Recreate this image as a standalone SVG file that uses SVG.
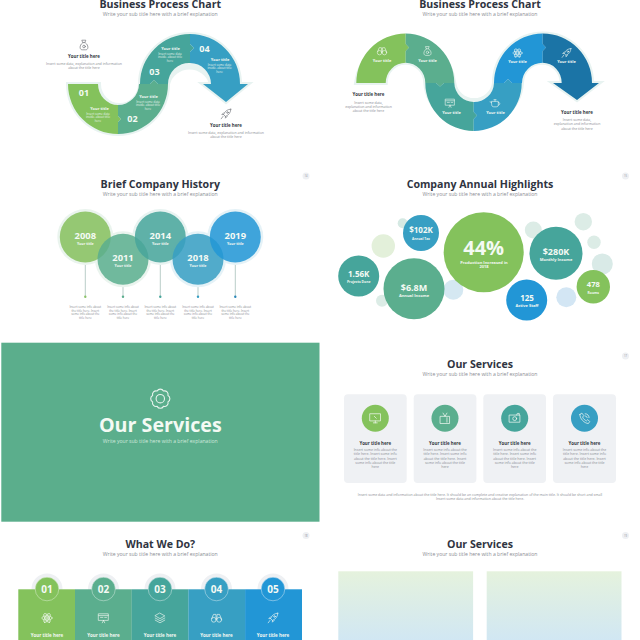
<svg xmlns="http://www.w3.org/2000/svg" width="640" height="640" viewBox="0 0 640 640">
<style>
text{font-family:"Open Sans","Liberation Sans",sans-serif;text-anchor:middle}
.h{font-size:10.600px;font-weight:700;fill:#2f3441}
.s{font-size:5.100px;fill:#8a8d94}
.t{font-size:4.400px;font-weight:700;fill:#34383f}
.b{font-size:3.500px;fill:#8a8d94}
.wt{font-size:4px;font-weight:700;fill:#f2f8f2}
.wy{font-size:3.600px;font-weight:700;fill:#f2f8f2}
.wl{font-size:4.500px;font-weight:700;fill:#f2f8f2}
.wb{font-size:3px;fill:#e4f2ea}
.n{font-size:9px;font-weight:700;fill:#f4faf4}
.nl{font-size:10px;font-weight:700;fill:#f4faf4}
.halo{fill:#e8f3f1;stroke:#e8f3f1;stroke-width:4;stroke-linejoin:miter;stroke-miterlimit:8}
.ic{fill:none;stroke-width:1.1;stroke-linejoin:round;stroke-linecap:round}
.badge{fill:#eef0f3}
.bt{font-size:2.600px;fill:#8a8d94}
.tb{font-size:3px;fill:#8a8d94}
.y{font-size:9.400px;font-weight:700;fill:#f4faf4}
.big{font-weight:700;fill:#f4faf4}
.card{fill:#eff1f4}
.stem{stroke-width:1;stroke:#b9cdc9}
</style>
<defs>
<linearGradient id="pale" x1="0" y1="0" x2="0" y2="1"><stop offset="0" stop-color="#e5f2dd"/><stop offset="1" stop-color="#d1e7f3"/></linearGradient>
<g id="i-rocket"><path d="M8 -8C3 -8 -2 -5 -4 1L-1 4C5 2 8 -3 8 -8ZM-4 1L-7 1L-4 -2M-1 4L-1 7L2 4M-5 4L-8 8"/><circle cx="2.500" cy="-2.500" r="1.400"/></g>
<g id="i-bag"><path d="M-3 -8L3 -8L1.500 -4L-1.500 -4ZM-1.500 -4C-8 -1 -8 8 -3 8L3 8C8 8 8 -1 1.500 -4"/><circle cx="0" cy="2.500" r="2.200"/></g>
<g id="i-bino"><circle cx="-4.500" cy="3" r="4"/><circle cx="4.500" cy="3" r="4"/><path d="M-8 1L-5 -6L-1 -6L-.5 2M8 1L5 -6L1 -6L.5 2"/></g>
<g id="i-atom"><circle r="2"/><ellipse rx="8.500" ry="3.500"/><ellipse rx="8.500" ry="3.500" transform="rotate(60)"/><ellipse rx="8.500" ry="3.500" transform="rotate(120)"/></g>
<g id="i-board"><rect x="-8" y="-7" width="16" height="11"/><path d="M-8 -4L8 -4M-5 -1L-1 -1M2 -1L5 -1M0 4L-2 8M0 4L2 8"/></g>
<g id="i-pot"><path d="M-6 -3L6 -3L6 4C6 7 3 7 0 7C-3 7 -6 7 -6 4ZM6 -1C10 -2 10 4 6 4M-6 -1L-9 -2M-2 -6L2 -6M0 -6L0 -3"/></g>
<g id="i-layers"><path d="M0 -8L8 -3.500L0 1L-8 -3.500ZM-8 0L0 4.500L8 0M-8 3.500L0 8L8 3.500"/></g>
<g id="i-gear"><path d="M7.670 3.180A3.600 3.600 0 0 1 3.180 7.670A3.600 3.600 0 0 1 -3.180 7.670A3.600 3.600 0 0 1 -7.670 3.180A3.600 3.600 0 0 1 -7.670 -3.180A3.600 3.600 0 0 1 -3.180 -7.670A3.600 3.600 0 0 1 3.180 -7.670A3.600 3.600 0 0 1 7.670 -3.180A3.600 3.600 0 0 1 7.670 3.180Z"/><circle r="4.200"/></g>
<g id="i-mon"><rect x="-8" y="-7" width="16" height="11"/><path d="M-3 7L3 7M0 4L0 7M-1.500 -3L1.500 0"/></g>
<g id="i-tv"><rect x="-7" y="-3" width="14" height="11"/><path d="M-3 -8L0 -3L3 -8M3 -1L3 6"/></g>
<g id="i-cam"><rect x="-8" y="-5" width="16" height="11"/><circle cy=".5" r="3"/><path d="M3 -5L4 -7.500L7 -7.500L7 -5"/></g>
<g id="i-phone"><path d="M-7 -6L-4 -8L-1 -4L-3 -2C-2 1 1 3 3 4L5 2L8 5L6 8C0 8 -8 0 -7 -6ZM1 -7C5 -7 7 -4 7 -1M1 -3.500C3 -3.500 4 -2.500 4 -1"/></g>
</defs>

<g id="slide-process-1">
<text class="h" x="160.300" y="7.500">Business Process Chart</text>
<text class="s" x="160.300" y="15.800">Write your sub title here with a brief explanation</text>
<path class="halo" d="M68 84A50 50 0 0 0 168 84A22 21 0 0 1 211 84L203 84L226 102L248 84L240 84A50 50 0 0 0 140 84A20.500 21 0 0 1 99 84Z"/>
<g id="p1-01"><path fill="#84c25c" d="M68 84A50 50 0 0 0 118 134L118 122L121 119L118 116L118 105A20 21 0 0 1 98 84Z"/><text class="n" x="84" y="96">01</text><text class="wt" x="99.500" y="109.500">Your title</text><text class="wb" x="98" y="114.500">Insert some data</text><text class="wb" x="98" y="118.300">inside. about title</text><text class="wb" x="98" y="122">here</text></g>
<g id="p1-02"><path fill="#5bae8e" d="M118 105A21 21 0 0 0 139 84L150 84L154 80L158 84L168 84A50 50 0 0 1 118 134L118 122L121 119L118 116Z"/><text class="n" x="132.500" y="122">02</text><text class="wt" x="148.500" y="97.500">Your title</text><text class="wb" x="148" y="102.500">Insert some data</text><text class="wb" x="148" y="106.300">inside. about title</text><text class="wb" x="148" y="110">here</text></g>
<g id="p1-03"><path fill="#46a59b" d="M140 84A50 50 0 0 1 190 34L190 44L194 48L190 52L190 63A21 21 0 0 0 168 84L158 84L154 80L150 84Z"/><text class="n" x="154.500" y="75">03</text><text class="wt" x="170.500" y="49.500">Your title</text><text class="wb" x="170" y="54.500">Insert some data</text><text class="wb" x="170" y="58.300">inside. about title</text><text class="wb" x="170" y="62">here</text></g>
<g id="p1-04"><path fill="#379fc3" d="M190 34A50 50 0 0 1 240 84L248 84L226 102L203 84L211 84A21 21 0 0 0 190 63L190 52L194 48L190 44Z"/><text class="n" x="204.500" y="51.500">04</text><text class="wt" x="220" y="60.500">Your title</text><text class="wb" x="219.500" y="65.500">Insert some data</text><text class="wb" x="219.500" y="69.300">inside. about title</text><text class="wb" x="219.500" y="73">here</text></g>
<g id="p1-note-a"><use href="#i-bag" class="ic" stroke="#6f7278" transform="translate(84 45) scale(.6)"/><text class="t" x="84" y="58">Your title here</text><text class="b" x="84" y="64.500">Insert some data, explanation and information</text><text class="b" x="84" y="69">about the title here</text></g>
<g id="p1-note-b"><use href="#i-rocket" class="ic" stroke="#6f7278" transform="translate(226 114) scale(.6)"/><text class="t" x="226" y="127">Your title here</text><text class="b" x="226" y="133.500">Insert some data, explanation and information</text><text class="b" x="226" y="138">about the title here</text></g>
</g>

<g id="slide-process-2">
<text class="h" x="480" y="7.500">Business Process Chart</text>
<text class="s" x="480" y="15.800">Write your sub title here with a brief explanation</text>
<path class="halo" d="M356 83A49.500 49.500 0 0 1 454.300 83A20 19.500 0 0 0 494 83A49 49.500 0 0 1 592 83L599 83L577 100L553 83L561.700 83A19.800 20.300 0 0 0 522 83A48.500 47.800 0 0 1 425.300 83A19.800 20.300 0 0 0 385.700 83Z"/>
<g id="p2-1"><path fill="#84c25c" d="M356.300 83A49.500 49.500 0 0 1 405.700 33.500L405.700 44L409 47.500L405.700 51L405.700 62.700A20 20.300 0 0 0 385.700 83Z"/><use href="#i-bino" class="ic" stroke="#f2f8f2" transform="translate(382 51) scale(.55)"/><text class="wt" x="382" y="61.500">Your title</text></g>
<g id="p2-2"><path fill="#5bae8e" d="M405.700 33.500A49 49.500 0 0 1 454.300 83L444 83L440 86.500L436 83L425.300 83A19.800 20.300 0 0 0 405.700 62.700L405.700 51L409 47.500L405.700 44Z"/><use href="#i-bag" class="ic" stroke="#f2f8f2" transform="translate(427.500 51) scale(.55)"/><text class="wt" x="427.500" y="61.500">Your title</text></g>
<g id="p2-3"><path fill="#46a59b" d="M425.300 83L436 83L440 86.500L444 83L454.300 83A19.500 19.500 0 0 0 473.700 102L473.700 112L477 115.500L473.700 119L473.700 131A48.500 48 0 0 1 425.300 83Z"/><use href="#i-board" class="ic" stroke="#f2f8f2" transform="translate(450 103) scale(.55)"/><text class="wt" x="451.500" y="113.500">Your title</text></g>
<g id="p2-4"><path fill="#379fc3" d="M473.700 102A20 19.500 0 0 0 494 83L504 83L508 79L512 83L521.700 83A48 48 0 0 1 473.700 131L473.700 119L477 115.500L473.700 112Z"/><use href="#i-pot" class="ic" stroke="#f2f8f2" transform="translate(495 103) scale(.55)"/><text class="wt" x="495.500" y="113.500">Your title</text></g>
<g id="p2-5"><path fill="#2296d6" d="M494 83A49 49.500 0 0 1 542.700 33.500L542.700 44L546 47.500L542.700 51L542.700 62.700A20.700 20.300 0 0 0 522 83L512 83L508 79L504 83Z"/><use href="#i-atom" class="ic" stroke="#f2f8f2" transform="translate(517.500 53) scale(.55)"/><text class="wt" x="517.500" y="62.800">Your title</text></g>
<g id="p2-6"><path fill="#1b74a6" d="M542.700 33.500A49.300 49.500 0 0 1 592 83L599 83L577 100L553 83L561.700 83A19 20.300 0 0 0 542.700 62.700L542.700 51L546 47.500L542.700 44Z"/><use href="#i-rocket" class="ic" stroke="#f2f8f2" transform="translate(566.500 53) scale(.55)"/><text class="wt" x="566.500" y="62.800">Your title</text></g>
<g id="p2-note-a"><text class="t" x="368.500" y="96">Your title here</text><text class="b" x="368.500" y="103.500">Insert some data,</text><text class="b" x="368.500" y="107.700">explanation and information</text><text class="b" x="368.500" y="112">about the title here</text></g>
<g id="p2-note-b"><text class="t" x="577" y="114">Your title here</text><text class="b" x="577" y="121">Insert some data,</text><text class="b" x="577" y="125.200">explanation and information</text><text class="b" x="577" y="129.500">about the title here</text></g>
</g>

<g id="slide-history">
<text class="h" x="160.300" y="187.500">Brief Company History</text>
<text class="s" x="160.300" y="195.800">Write your sub title here with a brief explanation</text>
<circle class="badge" cx="306" cy="176" r="3.500"/><text class="bt" x="306" y="177">14</text>
<g id="connectors">
<path class="stem" d="M85.300 255V296.500"/><path class="stem" d="M123 280V296.500"/><path class="stem" d="M160.300 255V296.500"/><path class="stem" d="M198 280V296.500"/><path class="stem" d="M235.300 255V296.500"/>
<circle cx="85.300" cy="296.700" r="1.200" fill="#8cc46b"/><circle cx="123" cy="296.700" r="1.200" fill="#5bae8e"/><circle cx="160.300" cy="296.700" r="1.200" fill="#46a59b"/><circle cx="198" cy="296.700" r="1.200" fill="#379fc3"/><circle cx="235.300" cy="296.700" r="1.200" fill="#2b88b8"/>
</g>
<circle cx="85.300" cy="237" r="28" fill="#eaf4ee"/><circle cx="160.300" cy="237" r="28" fill="#e8f3f1"/><circle cx="235.300" cy="237" r="28" fill="#e5f2f7"/><circle cx="123" cy="259.300" r="28" fill="#eaf4ee"/><circle cx="198" cy="259.300" r="28" fill="#e5f2f7"/>
<g id="y2008"><circle cx="85.300" cy="237" r="25.500" fill="#95c873"/><text class="y" x="85.300" y="239">2008</text><text class="wy" x="85.300" y="245">Your title</text></g>
<g id="y2011"><circle cx="123" cy="259.300" r="25.500" fill="#5bae8e" fill-opacity=".85"/><text class="y" x="123" y="261.300">2011</text><text class="wy" x="123" y="267.300">Your title</text></g>
<g id="y2014"><circle cx="160.300" cy="237" r="25.500" fill="#46a59b" fill-opacity=".85"/><text class="y" x="160.300" y="239">2014</text><text class="wy" x="160.300" y="245">Your title</text></g>
<g id="y2018"><circle cx="198" cy="259.300" r="25.500" fill="#379fc3" fill-opacity=".85"/><text class="y" x="198" y="261.300">2018</text><text class="wy" x="198" y="267.300">Your title</text></g>
<g id="y2019"><circle cx="235.300" cy="237" r="25.500" fill="#2296d6" fill-opacity=".85"/><text class="y" x="235.300" y="239">2019</text><text class="wy" x="235.300" y="245">Your title</text></g>
<g id="history-notes">
<text class="tb" x="85.300" y="307.800">Insert some info about</text><text class="tb" x="85.300" y="311.500">the title here. Insert</text><text class="tb" x="85.300" y="315.200">some info about the</text><text class="tb" x="85.300" y="318.900">title here</text>
<text class="tb" x="123" y="307.800">Insert some info about</text><text class="tb" x="123" y="311.500">the title here. Insert</text><text class="tb" x="123" y="315.200">some info about the</text><text class="tb" x="123" y="318.900">title here</text>
<text class="tb" x="160.300" y="307.800">Insert some info about</text><text class="tb" x="160.300" y="311.500">the title here. Insert</text><text class="tb" x="160.300" y="315.200">some info about the</text><text class="tb" x="160.300" y="318.900">title here</text>
<text class="tb" x="198" y="307.800">Insert some info about</text><text class="tb" x="198" y="311.500">the title here. Insert</text><text class="tb" x="198" y="315.200">some info about the</text><text class="tb" x="198" y="318.900">title here</text>
<text class="tb" x="235.300" y="307.800">Insert some info about</text><text class="tb" x="235.300" y="311.500">the title here. Insert</text><text class="tb" x="235.300" y="315.200">some info about the</text><text class="tb" x="235.300" y="318.900">title here</text>
</g>
</g>

<g id="slide-highlights">
<text class="h" x="480" y="187.500">Company Annual Highlights</text>
<text class="s" x="480" y="195.800">Write your sub title here with a brief explanation</text>
<circle class="badge" cx="625.500" cy="176" r="3.500"/><text class="bt" x="625.500" y="177">15</text>
<circle cx="402.700" cy="223.300" r="5" fill="#d5e9e3"/><circle cx="383.300" cy="246" r="11.700" fill="#e3f0da"/><circle cx="382" cy="300.700" r="6" fill="#dcece6"/><circle cx="453.300" cy="289.700" r="10" fill="#d5e8f2"/><circle cx="533.300" cy="230" r="8.500" fill="#dcece6"/><circle cx="583.300" cy="221.700" r="8.700" fill="#dcece6"/><circle cx="594" cy="242.300" r="6.700" fill="#dcece6"/><circle cx="602.300" cy="264" r="10.500" fill="#d9eae7"/><circle cx="566.300" cy="297.300" r="10" fill="#d3e6f4"/>
<g id="b102"><circle cx="421" cy="233" r="18" fill="#379fc3"/><text class="big" font-size="8" x="421" y="233">$102K</text><text class="wt" style="font-size:3.200px" x="421" y="239.500">Annual Tax</text></g>
<g id="b44"><circle cx="483.700" cy="252.300" r="40" fill="#84c25c"/><text class="big" font-size="20" x="483.700" y="254.500">44%</text><text class="wt" x="484" y="264">Production Increased in</text><text class="wt" x="484" y="268.300">2018</text></g>
<g id="b280"><circle cx="556" cy="253.300" r="26.500" fill="#46a59b"/><text class="big" font-size="9" x="556" y="254.500">$280K</text><text class="wt" x="556" y="260.500">Monthly Income</text></g>
<g id="b156"><circle cx="358.700" cy="276" r="20.500" fill="#46a59b"/><text class="big" font-size="8" x="358.700" y="276.500">1.56K</text><text class="wt" style="font-size:3.400px" x="358.700" y="283">Projects Done</text></g>
<g id="b68"><circle cx="414" cy="288.700" r="30.500" fill="#5bae8e"/><text class="big" font-size="9" x="414" y="290.500">$6.8M</text><text class="wt" x="414" y="297">Annual Income</text></g>
<g id="b125"><circle cx="526.700" cy="300" r="20.500" fill="#2296d6"/><text class="big" font-size="8" x="527" y="300.500">125</text><text class="wt" x="527" y="307">Active Staff</text></g>
<g id="b478"><circle cx="593.300" cy="286.700" r="16.700" fill="#84c25c"/><text class="big" font-size="7.500" x="593.300" y="287">478</text><text class="wt" style="font-size:3.400px" x="593.300" y="294">Rooms</text></g>
</g>

<g id="slide-cover">
<rect x="1.300" y="342.700" width="318.200" height="179" fill="#5bae8c"/>
<use href="#i-gear" class="ic" stroke="#e8f4ee" stroke-width=".8" transform="translate(160.300 398.700)"/>
<text class="big" font-size="19.700" x="160.300" y="431.700">Our Services</text>
<text class="s" x="160.300" y="442.700" style="fill:#cfe8dc">Write your sub title here with a brief explanation</text>
</g>

<g id="slide-services">
<text class="h" x="480" y="367.500">Our Services</text>
<text class="s" x="480" y="375.800">Write your sub title here with a brief explanation</text>
<circle class="badge" cx="625.500" cy="356" r="3.500"/><text class="bt" x="625.500" y="357">17</text>
<g id="card1"><rect class="card" x="344" y="394.300" width="62.700" height="88.700" rx="4"/><circle cx="375.300" cy="418.300" r="13.500" fill="#84c25c"/><use href="#i-mon" class="ic" stroke="#f2f8f2" transform="translate(375.300 418.300) scale(.65)"/><text class="t" x="375.300" y="444.500">Your title here</text><text class="b" x="375.300" y="451">Insert some info about the</text><text class="b" x="375.300" y="455.300">title here. Insert some info</text><text class="b" x="375.300" y="459.600">about the title here. Insert</text><text class="b" x="375.300" y="463.900">some info about the title</text><text class="b" x="375.300" y="468.200">here</text></g>
<g id="card2"><rect class="card" x="413.700" y="394.300" width="62.700" height="88.700" rx="4"/><circle cx="445" cy="418.300" r="13.500" fill="#5bae8e"/><use href="#i-tv" class="ic" stroke="#f2f8f2" transform="translate(445 418.300) scale(.65)"/><text class="t" x="445" y="444.500">Your title here</text><text class="b" x="445" y="451">Insert some info about the</text><text class="b" x="445" y="455.300">title here. Insert some info</text><text class="b" x="445" y="459.600">about the title here. Insert</text><text class="b" x="445" y="463.900">some info about the title</text><text class="b" x="445" y="468.200">here</text></g>
<g id="card3"><rect class="card" x="483.300" y="394.300" width="62.700" height="88.700" rx="4"/><circle cx="514.700" cy="418.300" r="13.500" fill="#46a59b"/><use href="#i-cam" class="ic" stroke="#f2f8f2" transform="translate(514.700 418.300) scale(.65)"/><text class="t" x="514.700" y="444.500">Your title here</text><text class="b" x="514.700" y="451">Insert some info about the</text><text class="b" x="514.700" y="455.300">title here. Insert some info</text><text class="b" x="514.700" y="459.600">about the title here. Insert</text><text class="b" x="514.700" y="463.900">some info about the title</text><text class="b" x="514.700" y="468.200">here</text></g>
<g id="card4"><rect class="card" x="553" y="394.300" width="63" height="88.700" rx="4"/><circle cx="584.500" cy="418.300" r="13.500" fill="#379fc3"/><use href="#i-phone" class="ic" stroke="#f2f8f2" transform="translate(584.500 418.300) scale(.65)"/><text class="t" x="584.500" y="444.500">Your title here</text><text class="b" x="584.500" y="451">Insert some info about the</text><text class="b" x="584.500" y="455.300">title here. Insert some info</text><text class="b" x="584.500" y="459.600">about the title here. Insert</text><text class="b" x="584.500" y="463.900">some info about the title</text><text class="b" x="584.500" y="468.200">here</text></g>
<text class="b" x="480" y="495.500">Insert some data and information about the title here. It should be an complete and creative explanation of the main title. It should be short and small</text>
<text class="b" x="480" y="499.700">Insert some data and information about the title here.</text>
</g>

<g id="slide-what">
<text class="h" x="160.300" y="547.500">What We Do?</text>
<text class="s" x="160.300" y="555.500">Write your sub title here with a brief explanation</text>
<circle class="badge" cx="306" cy="535.500" r="3.500"/><text class="bt" x="306" y="536.500">18</text>
<circle cx="47" cy="589" r="15.500" fill="#eef0f3"/><circle cx="103.500" cy="589" r="15.500" fill="#eef0f3"/><circle cx="160" cy="589" r="15.500" fill="#eef0f3"/><circle cx="216.500" cy="589" r="15.500" fill="#eef0f3"/><circle cx="273" cy="589" r="15.500" fill="#eef0f3"/>
<g id="w1"><rect x="18.300" y="589.300" width="56.800" height="50.700" fill="#84c25c"/><circle cx="47" cy="589" r="11.800" fill="#84c25c" stroke="#dcefd2" stroke-width=".5"/><text class="nl" x="47" y="592.700">01</text><use href="#i-atom" class="ic" stroke="#f2f8f2" transform="translate(47 618) scale(.6)"/><text class="wl" x="47" y="636.500">Your title here</text></g>
<g id="w2"><rect x="75" y="589.300" width="56.800" height="50.700" fill="#5bae8e"/><circle cx="103.500" cy="589" r="11.800" fill="#5bae8e" stroke="#d5ebe1" stroke-width=".5"/><text class="nl" x="103.500" y="592.700">02</text><use href="#i-board" class="ic" stroke="#f2f8f2" transform="translate(103.500 618) scale(.6)"/><text class="wl" x="103.500" y="636.500">Your title here</text></g>
<g id="w3"><rect x="131.700" y="589.300" width="56.800" height="50.700" fill="#46a59b"/><circle cx="160" cy="589" r="11.800" fill="#46a59b" stroke="#d3e9e6" stroke-width=".5"/><text class="nl" x="160" y="592.700">03</text><use href="#i-layers" class="ic" stroke="#f2f8f2" transform="translate(160 618) scale(.6)"/><text class="wl" x="160" y="636.500">Your title here</text></g>
<g id="w4"><rect x="188.400" y="589.300" width="56.800" height="50.700" fill="#379fc3"/><circle cx="216.500" cy="589" r="11.800" fill="#379fc3" stroke="#d3e9f1" stroke-width=".5"/><text class="nl" x="216.500" y="592.700">04</text><use href="#i-bino" class="ic" stroke="#f2f8f2" transform="translate(216.500 618) scale(.6)"/><text class="wl" x="216.500" y="636.500">Your title here</text></g>
<g id="w5"><rect x="245.100" y="589.300" width="56.900" height="50.700" fill="#2296d6"/><circle cx="273" cy="589" r="11.800" fill="#2296d6" stroke="#d0e7f5" stroke-width=".5"/><text class="nl" x="273" y="592.700">05</text><use href="#i-rocket" class="ic" stroke="#f2f8f2" transform="translate(273 618) scale(.6)"/><text class="wl" x="273" y="636.500">Your title here</text></g>
</g>

<g id="slide-services-2">
<text class="h" x="480" y="547.500">Our Services</text>
<text class="s" x="480" y="555.500">Write your sub title here with a brief explanation</text>
<circle class="badge" cx="625.500" cy="535.500" r="3.500"/><text class="bt" x="625.500" y="536.500">19</text>
<rect x="338.300" y="571.300" width="134.800" height="68.700" fill="url(#pale)"/>
<rect x="486.700" y="571.300" width="134.800" height="68.700" fill="url(#pale)"/>
</g>
</svg>
